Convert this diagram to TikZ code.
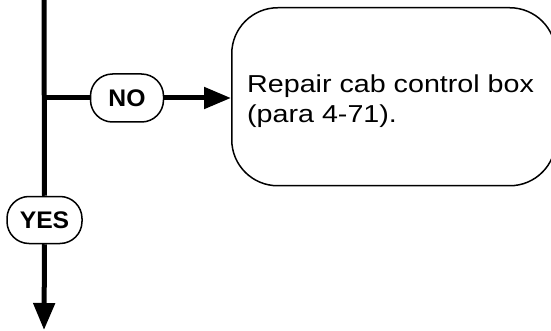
\documentclass[tikz,border=0pt]{standalone}
\usepackage{fontspec}
\setmainfont{Liberation Sans}
\newfontfamily\boxfont[FakeStretch=1.17]{Liberation Sans}
\newfontfamily\tagfont[FakeStretch=1.03]{Liberation Sans}
\usetikzlibrary{arrows.meta}
\begin{document}
\begin{tikzpicture}[x=1pt,y=-1pt,
  flow/.style={line width=5pt},
  flowarrow/.style={line width=5pt,-{Triangle[length=27pt,width=21pt]}},
  tag/.style={draw,line width=1.5pt,fill=white,rounded corners=22pt,inner sep=0pt,
    font=\tagfont\bfseries\fontsize{24}{26}\selectfont},
  stepbox/.style={draw,line width=1.5pt,rounded corners=46pt,inner sep=0pt},
  boxtext/.style={inner sep=0pt,align=left,
    font=\boxfont\fontsize{24.5}{30.5}\selectfont}]
\useasboundingbox (0,0) rectangle (551,331);
\coordinate (top) at (44,-5);
\coordinate (j) at (44,98);
\coordinate (bot) at (44,330);
\node[stepbox,minimum width=324pt,minimum height=178pt,anchor=north west] (box) at (231,7) {};
\node[boxtext,anchor=base west] (txt) at (247,123) {Repair cab control box\\(para 4-71).};
\node[tag,minimum width=73pt,minimum height=48pt] (no) at (127,98) {NO};
\node[tag,minimum width=75pt,minimum height=47pt] (yes) at (44.5,220) {YES};
\draw[flow] (top) -- (yes.north);
\draw[flow] (j) -- (no.west);
\draw[flowarrow] (no.east) -- (box.west |- no.east);
\draw[flowarrow] (yes.south) -- (bot);
\end{tikzpicture}
\end{document}
